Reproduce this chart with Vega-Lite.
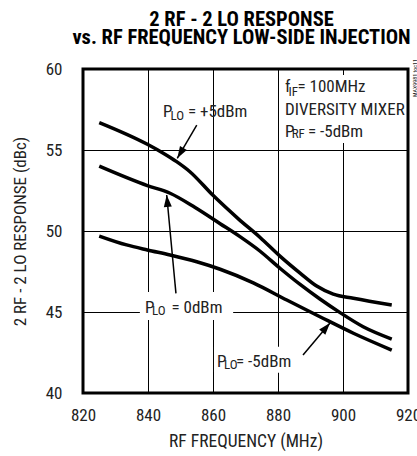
{
  "$schema": "https://vega.github.io/schema/vega-lite/v6.json",
  "width": 325,
  "height": 324,
  "autosize": "none",
  "padding": {"left": 83, "top": 69, "right": 9, "bottom": 63},
  "background": "white",
  "config": {
    "view": {"stroke": "black", "strokeWidth": 3},
    "font": "Roboto Condensed"
  },
  "title": {
    "text": ["2 RF - 2 LO RESPONSE", "vs. RF FREQUENCY LOW-SIDE INJECTION"],
    "font": "Roboto Condensed",
    "fontSize": 20.5,
    "fontWeight": "bold",
    "lineHeight": 18,
    "anchor": "middle",
    "offset": 11,
    "dx": -4,
    "color": "black"
  },
  "datasets": {
    "curves": [
      {"f": 825, "v": 56.69, "s": "+5dBm"},
      {"f": 839.8, "v": 55.35, "s": "+5dBm"},
      {"f": 844.7, "v": 54.8, "s": "+5dBm"},
      {"f": 848.8, "v": 54.28, "s": "+5dBm"},
      {"f": 852.9, "v": 53.66, "s": "+5dBm"},
      {"f": 860.0, "v": 52.2, "s": "+5dBm"},
      {"f": 867.8, "v": 50.75, "s": "+5dBm"},
      {"f": 874.5, "v": 49.6, "s": "+5dBm"},
      {"f": 880.6, "v": 48.45, "s": "+5dBm"},
      {"f": 886.8, "v": 47.4, "s": "+5dBm"},
      {"f": 891.9, "v": 46.6, "s": "+5dBm"},
      {"f": 897, "v": 46.1, "s": "+5dBm"},
      {"f": 903.2, "v": 45.85, "s": "+5dBm"},
      {"f": 915, "v": 45.43, "s": "+5dBm"},
      {"f": 825, "v": 54.0, "s": "0dBm"},
      {"f": 839.8, "v": 52.8, "s": "0dBm"},
      {"f": 846.8, "v": 52.33, "s": "0dBm"},
      {"f": 854.5, "v": 51.45, "s": "0dBm"},
      {"f": 862.2, "v": 50.45, "s": "0dBm"},
      {"f": 868.3, "v": 49.65, "s": "0dBm"},
      {"f": 874.5, "v": 48.75, "s": "0dBm"},
      {"f": 880.6, "v": 47.7, "s": "0dBm"},
      {"f": 886.8, "v": 46.7, "s": "0dBm"},
      {"f": 892.9, "v": 45.8, "s": "0dBm"},
      {"f": 899.1, "v": 44.96, "s": "0dBm"},
      {"f": 906.2, "v": 44.09, "s": "0dBm"},
      {"f": 915, "v": 43.33, "s": "0dBm"},
      {"f": 825, "v": 49.69, "s": "-5dBm"},
      {"f": 833.4, "v": 49.14, "s": "-5dBm"},
      {"f": 839.8, "v": 48.83, "s": "-5dBm"},
      {"f": 846.8, "v": 48.52, "s": "-5dBm"},
      {"f": 855, "v": 48.1, "s": "-5dBm"},
      {"f": 862.2, "v": 47.64, "s": "-5dBm"},
      {"f": 872.4, "v": 46.8, "s": "-5dBm"},
      {"f": 882.7, "v": 45.74, "s": "-5dBm"},
      {"f": 892.9, "v": 44.71, "s": "-5dBm"},
      {"f": 903.2, "v": 43.69, "s": "-5dBm"},
      {"f": 915, "v": 42.65, "s": "-5dBm"}
    ],
    "boxes": [
      {"x1": 837.5, "x2": 866.2, "y1": 46.23, "y2": 44.51},
      {"x1": 860.3, "x2": 888.0, "y1": 42.85, "y2": 41.25},
      {"x1": 881.2, "x2": 919.1, "y1": 59.63, "y2": 55.43}
    ],
    "arrows": [
      {"id": "a1", "x1": 855.0, "y1": 56.54, "x2": 849.0, "y2": 54.49},
      {"id": "a2", "x1": 848.6, "y1": 46.15, "x2": 845.75, "y2": 52.22},
      {"id": "a3", "x1": 887.7, "y1": 42.35, "x2": 896.0, "y2": 44.32}
    ],
    "main": [
      {"x": 844.6, "y": 57.06, "t": "P"},
      {"x": 852.3, "y": 57.06, "t": "= +5dBm"},
      {"x": 839.08, "y": 44.96, "t": "P"},
      {"x": 847.23, "y": 44.96, "t": "= 0dBm"},
      {"x": 861.23, "y": 41.62, "t": "P"},
      {"x": 867.1, "y": 41.62, "t": "= -5dBm"},
      {"x": 882.15, "y": 58.56, "t": "f"},
      {"x": 886.0, "y": 58.56, "t": "= 100MHz"},
      {"x": 882.15, "y": 57.16, "t": "DIVERSITY MIXER"},
      {"x": 882.15, "y": 55.82, "t": "P"},
      {"x": 889.23, "y": 55.82, "t": "= -5dBm"}
    ],
    "subs": [
      {"x": 846.9, "y": 56.85, "t": "LO"},
      {"x": 841.23, "y": 44.81, "t": "LO"},
      {"x": 863.4, "y": 41.46, "t": "LO"},
      {"x": 883.23, "y": 58.35, "t": "IF"},
      {"x": 884.22, "y": 55.71, "t": "RF"}
    ],
    "stamp": [
      {"x": 922.15, "y": 59.44, "t": "MAX9981 toc11"}
    ]
  },
  "layer": [
    {
      "data": {"name": "boxes"},
      "mark": {"type": "rect", "fill": "white", "stroke": null},
      "encoding": {
        "x": {
          "field": "x1", "type": "quantitative",
          "scale": {"domain": [820, 920], "nice": false, "zero": false},
          "axis": {
            "values": [820, 840, 860, 880, 900, 920],
            "grid": true, "gridColor": "black", "gridWidth": 1, "gridOpacity": 1,
            "ticks": false, "domain": false,
            "labelFont": "Roboto Condensed", "labelFontSize": 17, "labelColor": "#222",
            "labelPadding": 14, "labelFlush": false,
            "title": "RF FREQUENCY (MHz)",
            "titleFont": "Roboto Condensed", "titleFontSize": 17.5, "titleFontWeight": "normal",
            "titleColor": "#222", "titlePadding": 9
          }
        },
        "x2": {"field": "x2"},
        "y": {
          "field": "y1", "type": "quantitative",
          "scale": {"domain": [40, 60], "nice": false, "zero": false},
          "axis": {
            "values": [40, 45, 50, 55, 60],
            "grid": true, "gridColor": "black", "gridWidth": 1, "gridOpacity": 1,
            "ticks": false, "domain": false,
            "labelFont": "Roboto Condensed", "labelFontSize": 17, "labelColor": "#222",
            "labelPadding": 21, "labelFlush": false,
            "title": "2 RF - 2 LO RESPONSE (dBc)",
            "titleFont": "Roboto Condensed", "titleFontSize": 17, "titleFontWeight": "normal",
            "titleColor": "#222", "titlePadding": 16
          }
        },
        "y2": {"field": "y2"}
      }
    },
    {
      "data": {"name": "curves"},
      "mark": {"type": "line", "color": "black", "strokeWidth": 3.5, "interpolate": "monotone"},
      "encoding": {
        "x": {"field": "f", "type": "quantitative"},
        "y": {"field": "v", "type": "quantitative"},
        "detail": {"field": "s"}
      }
    },
    {
      "data": {"name": "arrows"},
      "mark": {"type": "rule", "color": "black", "strokeWidth": 1.5},
      "encoding": {
        "x": {"field": "x1", "type": "quantitative"},
        "y": {"field": "y1", "type": "quantitative"},
        "x2": {"field": "x2"},
        "y2": {"field": "y2"}
      }
    },
    {
      "data": {"name": "arrows"},
      "transform": [{"filter": "datum.id == 'a1'"}],
      "mark": {"type": "point", "shape": "M0,0L1,3L-1,3Z", "filled": true, "size": 64, "color": "black", "opacity": 1, "angle": 211},
      "encoding": {
        "x": {"field": "x2", "type": "quantitative"},
        "y": {"field": "y2", "type": "quantitative"}
      }
    },
    {
      "data": {"name": "arrows"},
      "transform": [{"filter": "datum.id == 'a2'"}],
      "mark": {"type": "point", "shape": "M0,0L1,3L-1,3Z", "filled": true, "size": 64, "color": "black", "opacity": 1, "angle": 354.6},
      "encoding": {
        "x": {"field": "x2", "type": "quantitative"},
        "y": {"field": "y2", "type": "quantitative"}
      }
    },
    {
      "data": {"name": "arrows"},
      "transform": [{"filter": "datum.id == 'a3'"}],
      "mark": {"type": "point", "shape": "M0,0L1,3L-1,3Z", "filled": true, "size": 64, "color": "black", "opacity": 1, "angle": 40.2},
      "encoding": {
        "x": {"field": "x2", "type": "quantitative"},
        "y": {"field": "y2", "type": "quantitative"}
      }
    },
    {
      "data": {"name": "main"},
      "mark": {"type": "text", "font": "Roboto Condensed", "fontSize": 17, "align": "left", "baseline": "alphabetic", "color": "#222"},
      "encoding": {
        "x": {"field": "x", "type": "quantitative"},
        "y": {"field": "y", "type": "quantitative"},
        "text": {"field": "t"}
      }
    },
    {
      "data": {"name": "subs"},
      "mark": {"type": "text", "font": "Roboto Condensed", "fontSize": 13, "align": "left", "baseline": "alphabetic", "color": "#222"},
      "encoding": {
        "x": {"field": "x", "type": "quantitative"},
        "y": {"field": "y", "type": "quantitative"},
        "text": {"field": "t"}
      }
    },
    {
      "data": {"name": "stamp"},
      "mark": {"type": "text", "font": "Roboto Condensed", "fontSize": 6, "align": "center", "baseline": "middle", "angle": 270, "color": "#222"},
      "encoding": {
        "x": {"field": "x", "type": "quantitative"},
        "y": {"field": "y", "type": "quantitative"},
        "text": {"field": "t"}
      }
    }
  ]
}
